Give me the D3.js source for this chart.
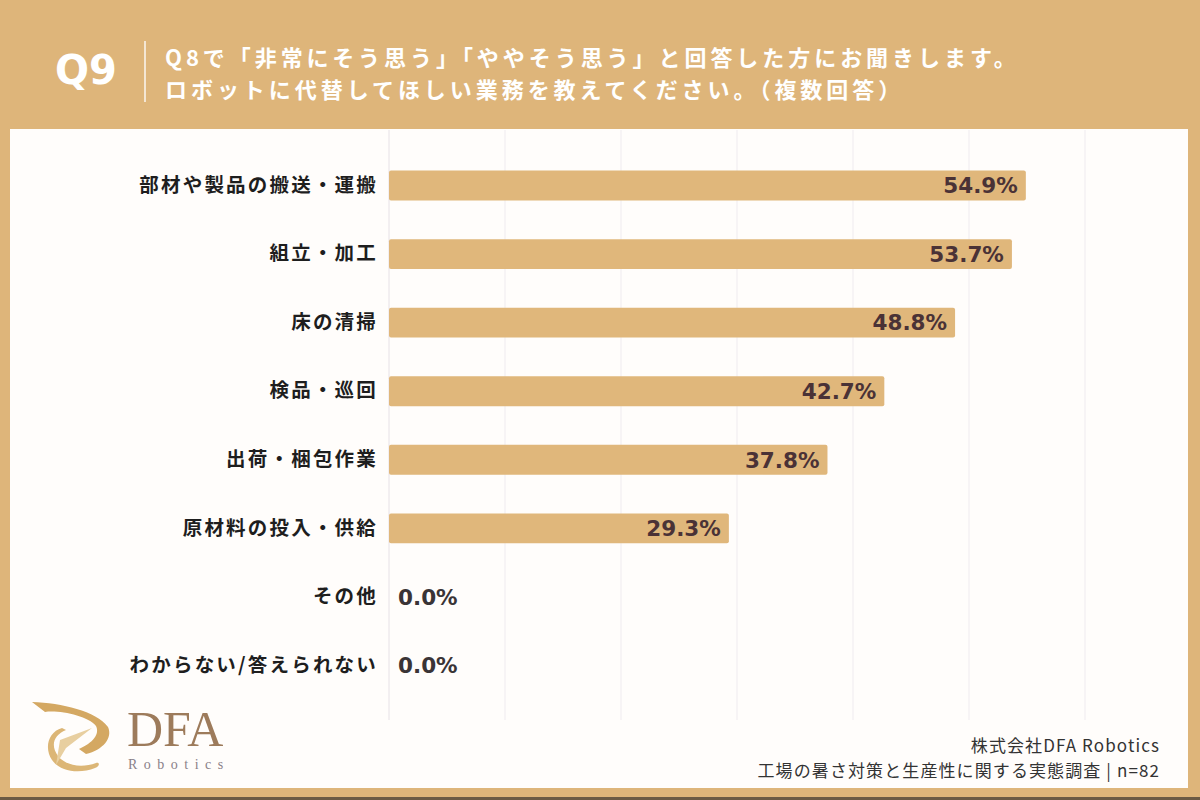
<!DOCTYPE html>
<html>
<head>
<meta charset="utf-8">
<script src="https://cdn.jsdelivr.net/npm/d3@7"></script>
<style>
  body { margin: 0; background: #fff; }
  svg { display: block; font-family: "Noto Sans CJK JP", "Noto Sans", sans-serif; }
</style>
</head>
<body>
<svg id="chart" width="1200" height="800"></svg>
<script>
// data
var categories = ["部材や製品の搬送・運搬", "組立・加工", "床の清掃", "検品・巡回",
	"出荷・梱包作業", "原材料の投入・供給", "その他", "わからない/答えられない"];
var values = [54.9, 53.7, 48.8, 42.7, 37.8, 29.3, 0.0, 0.0];
var gridTicks = [0, 10, 20, 30, 40, 50, 60];
var titleLines = ["Q8で「非常にそう思う」「ややそう思う」と回答した方にお聞きします。",
	"ロボットに代替してほしい業務を教えてください。（複数回答）"];
var sourceLines = ["株式会社DFA Robotics", "工場の暑さ対策と生産性に関する実態調査 | n=82"];

var gold = "#DEB57A";
var svg = d3.select("#chart");

// frame
svg.append("rect").attr("width", 1200).attr("height", 800).attr("fill", gold);
svg.append("rect").attr("x", 10).attr("y", 129).attr("width", 1178).attr("height", 659)
	.attr("fill", "#FFFDFB");
svg.append("rect").attr("x", 0).attr("y", 797).attr("width", 1200).attr("height", 3)
	.attr("fill", "#6b5a44");

// header
svg.append("text").attr("x", 55).attr("y", 84)
	.attr("fill", "#fff").attr("font-size", 40).attr("font-weight", 700)
	.attr("font-family", "DejaVu Sans, sans-serif")
	.text("Q9");
svg.append("line").attr("x1", 145).attr("x2", 145).attr("y1", 41).attr("y2", 102)
	.attr("stroke", "#fff").attr("stroke-width", 1.5).attr("opacity", 0.9);
svg.selectAll("text.title").data(titleLines).enter().append("text")
	.attr("class", "title")
	.attr("x", 165).attr("y", function (d, i) { return 66 + i * 32; })
	.attr("fill", "#fff").attr("font-size", 22).attr("font-weight", 700)
	.attr("letter-spacing", 3.95)
	.text(function (d) { return d; });

// scales
var x = d3.scaleLinear().domain([0, 70]).range([389, 1201]);
var y = d3.scaleBand().domain(categories).range([150, 701]).paddingInner(0.565).paddingOuter(0.3);

// grid
var plot = svg.append("g");
plot.selectAll("line.grid").data(gridTicks).enter().append("line")
	.attr("class", "grid")
	.attr("x1", function (d) { return x(d); }).attr("x2", function (d) { return x(d); })
	.attr("y1", 130).attr("y2", 720)
	.attr("stroke", function (d) { return d === 0 ? "#e6e1e6" : "#efebef"; })
	.attr("stroke-width", 1);

// bars
plot.selectAll("rect.bar").data(values).enter().append("rect")
	.attr("class", "bar")
	.attr("x", x(0))
	.attr("y", function (d, i) { return y(categories[i]); })
	.attr("width", function (d) { return x(d) - x(0); })
	.attr("height", y.bandwidth())
	.attr("rx", 2)
	.attr("fill", "#E0B77B");

// value labels
plot.selectAll("text.val").data(values).enter().append("text")
	.attr("class", "val")
	.attr("x", function (d) { return d > 5 ? x(d) - 8 : x(0) + 9; })
	.attr("y", function (d, i) { return y(categories[i]) + y.bandwidth() / 2; })
	.attr("dy", "0.36em")
	.attr("text-anchor", function (d) { return d > 5 ? "end" : "start"; })
	.attr("fill", function (d) { return d > 5 ? "#4a3236" : "#3a3436"; })
	.attr("font-size", 21.5).attr("font-weight", 700)
	.attr("font-family", "DejaVu Sans, sans-serif")
	.text(function (d) { return d.toFixed(1) + "%"; });

// category labels
var yAxis = d3.axisLeft(y).tickSize(0).tickPadding(11);
var ga = plot.append("g").attr("transform", "translate(" + x(0) + ",0)").call(yAxis);
ga.select(".domain").remove();
ga.selectAll("text")
	.attr("font-size", 19.5).attr("font-weight", 700).attr("fill", "#1e1e1e")
	.attr("letter-spacing", 2.2)
	.attr("font-family", "Noto Sans CJK JP, sans-serif");

// source
svg.selectAll("text.src").data(sourceLines).enter().append("text")
	.attr("class", "src")
	.attr("x", 1160).attr("y", function (d, i) { return 752 + i * 25; })
	.attr("text-anchor", "end")
	.attr("fill", "#333").attr("font-size", 17)
	.attr("letter-spacing", 1.1)
	.text(function (d) { return d; });

// logo
var logo = svg.append("g");
logo.append("path")
	.attr("d", "M32,702 C62,703 96,711 108,727 C113,738 103,750 86,754 L79,749 C93,743 100,734 96,726 C88,716 60,710 45,712 Z")
	.attr("fill", "#d4a862");
logo.append("path")
	.attr("d", "M62,728 C48,732 44,748 52,760 C60,772 80,774 95,768 C100,766 100,762 96,763 C82,768 66,766 58,756 C50,745 54,735 66,730 Z")
	.attr("fill", "#dcb676");
logo.append("path")
	.attr("d", "M60,740 L92,728 L66,748 L56,765 Z")
	.attr("fill", "#e8cfa0");
logo.append("text").attr("x", 127).attr("y", 746)
	.attr("font-family", "Liberation Serif, DejaVu Serif, serif")
	.attr("font-size", 50).attr("fill", "#9d7b5b")
	.text("DFA");
logo.append("text").attr("x", 128).attr("y", 769)
	.attr("font-family", "Liberation Serif, DejaVu Serif, serif")
	.attr("font-size", 14).attr("letter-spacing", 6.5).attr("fill", "#8a8088")
	.text("Robotics");
</script>
</body>
</html>
